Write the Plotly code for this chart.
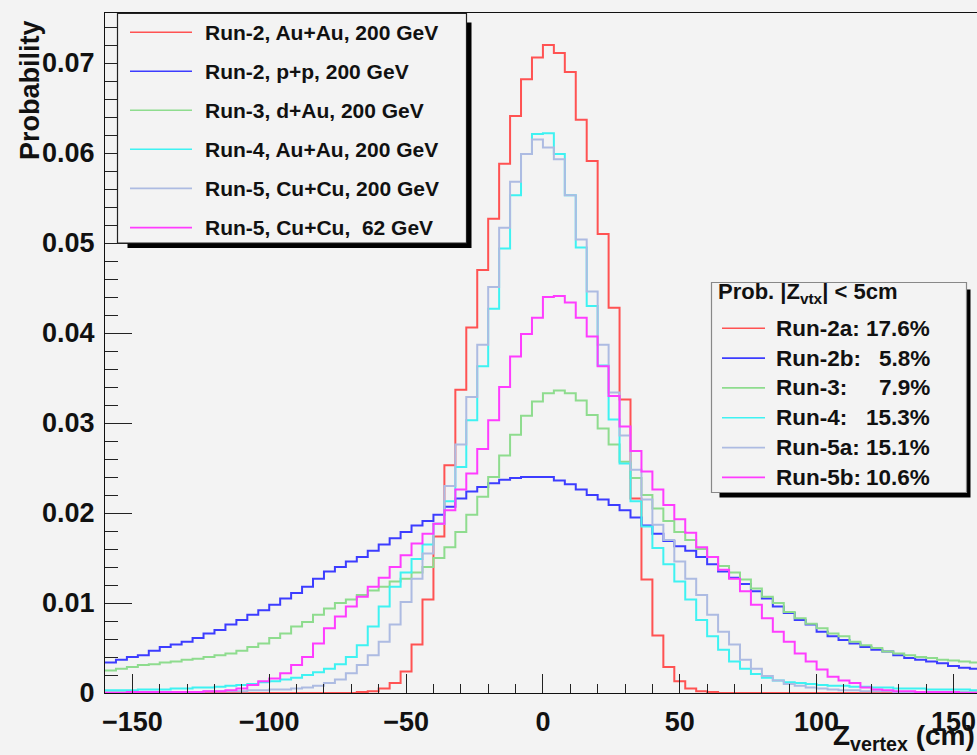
import plotly.graph_objects as go

# ---------------- data (bin edges in cm, 4 cm bins) ----------------
BIN_EDGES = list(range(-160, 164, 4))  # 81 edges -> 80 bins

RUN2_AUAU = [0, 0, 0, 0, 0, 0, 0, 0, 0, 0,
             0, 0, 0, 0, 0, 0, 0, 0, 0, 0,
             0, 0, 0, 0.0001, 0.0002, 0.0005, 0.0011, 0.0024, 0.0054, 0.0104,
             0.0174, 0.0253, 0.0337, 0.0406, 0.0470, 0.0527, 0.0588, 0.0641, 0.0682, 0.0706,
             0.0720, 0.0711, 0.0690, 0.0637, 0.0591, 0.0510, 0.0428, 0.0326, 0.0216, 0.0126,
             0.0064, 0.0029, 0.0013, 0.0005, 0.0002, 0.0001, 0, 0, 0, 0,
             0, 0, 0, 0, 0, 0, 0, 0, 0, 0,
             0, 0, 0, 0, 0, 0, 0, 0, 0, 0]

RUN2_PP = [0.0034, 0.0037, 0.0040, 0.0042, 0.0047, 0.0051, 0.0054, 0.0057, 0.0061, 0.0066,
           0.0070, 0.0076, 0.0081, 0.0087, 0.0092, 0.0098, 0.0105, 0.0111, 0.0118, 0.0127,
           0.0135, 0.0140, 0.0146, 0.0151, 0.0158, 0.0165, 0.0172, 0.0179, 0.0186, 0.0191,
           0.0198, 0.0207, 0.0216, 0.0224, 0.0229, 0.0233, 0.0237, 0.0239, 0.0240, 0.0240,
           0.0240, 0.0236, 0.0232, 0.0226, 0.0220, 0.0215, 0.0209, 0.0203, 0.0195, 0.0186,
           0.0177, 0.0169, 0.0163, 0.0158, 0.0151, 0.0143, 0.0135, 0.0128, 0.0121, 0.0113,
           0.0105, 0.0096, 0.0089, 0.0081, 0.0076, 0.0068, 0.0063, 0.0059, 0.0055, 0.0051,
           0.0048, 0.0046, 0.0042, 0.0039, 0.0037, 0.0035, 0.0033, 0.0030, 0.0028, 0.0027]

RUN3_DAU = [0.0025, 0.0027, 0.0029, 0.0031, 0.0032, 0.0034, 0.0035, 0.0037, 0.0038, 0.0040,
            0.0042, 0.0044, 0.0047, 0.0051, 0.0055, 0.0061, 0.0066, 0.0074, 0.0079, 0.0087,
            0.0094, 0.0100, 0.0104, 0.0109, 0.0114, 0.0118, 0.0124, 0.0127, 0.0134, 0.0140,
            0.0150, 0.0162, 0.0179, 0.0198, 0.0218, 0.0240, 0.0264, 0.0287, 0.0308, 0.0324,
            0.0333, 0.0336, 0.0333, 0.0325, 0.0309, 0.0294, 0.0276, 0.0257, 0.0239, 0.0220,
            0.0205, 0.0191, 0.0179, 0.0170, 0.0160, 0.0151, 0.0141, 0.0134, 0.0126, 0.0116,
            0.0107, 0.0100, 0.0090, 0.0083, 0.0077, 0.0072, 0.0066, 0.0063, 0.0057, 0.0053,
            0.0050, 0.0046, 0.0044, 0.0042, 0.0040, 0.0039, 0.0037, 0.0036, 0.0035, 0.0034]

RUN4_AUAU = [0.0003, 0.0003, 0.0003, 0.0004, 0.0004, 0.0004, 0.0005, 0.0005, 0.0006, 0.0006,
             0.0007, 0.0008, 0.0009, 0.0010, 0.0012, 0.0013, 0.0015, 0.0017, 0.0020, 0.0023,
             0.0027, 0.0032, 0.0040, 0.0053, 0.0074, 0.0096, 0.0118, 0.0134, 0.0149, 0.0165,
             0.0188, 0.0213, 0.0251, 0.0303, 0.0363, 0.0427, 0.0494, 0.0553, 0.0599, 0.0621,
             0.0622, 0.0599, 0.0553, 0.0495, 0.0430, 0.0364, 0.0304, 0.0255, 0.0213, 0.0185,
             0.0161, 0.0143, 0.0124, 0.0104, 0.0081, 0.0063, 0.0048, 0.0035, 0.0027, 0.0021,
             0.0017, 0.0014, 0.0012, 0.0011, 0.0010, 0.0009, 0.0008, 0.0008, 0.0007, 0.0007,
             0.0006, 0.0006, 0.0005, 0.0005, 0.0005, 0.0004, 0.0004, 0.0004, 0.0004, 0.0003]

RUN5_CUCU200 = [0.0001, 0.0001, 0.0001, 0.0001, 0.0001, 0.0001, 0.0001, 0.0001, 0.0001, 0.0002,
                0.0002, 0.0002, 0.0002, 0.0003, 0.0003, 0.0004, 0.0004, 0.0005, 0.0006, 0.0008,
                0.0011, 0.0015, 0.0022, 0.0031, 0.0042, 0.0057, 0.0076, 0.0101, 0.0127, 0.0155,
                0.0188, 0.0230, 0.0276, 0.0329, 0.0387, 0.0451, 0.0517, 0.0568, 0.0599, 0.0615,
                0.0606, 0.0593, 0.0553, 0.0504, 0.0446, 0.0387, 0.0334, 0.0286, 0.0248, 0.0215,
                0.0187, 0.0170, 0.0146, 0.0127, 0.0109, 0.0087, 0.0068, 0.0054, 0.0037, 0.0027,
                0.0019, 0.0014, 0.0010, 0.0008, 0.0006, 0.0005, 0.0004, 0.0003, 0.0003, 0.0002,
                0.0002, 0.0002, 0.0001, 0.0001, 0.0001, 0.0001, 0.0001, 0.0001, 0.0001, 0.0001]

RUN5_CUCU62 = [0.0000, 0.0000, 0.0001, 0.0001, 0.0001, 0.0001, 0.0001, 0.0001, 0.0001, 0.0002,
               0.0002, 0.0003, 0.0005, 0.0009, 0.0013, 0.0016, 0.0022, 0.0031, 0.0040, 0.0055,
               0.0072, 0.0085, 0.0096, 0.0107, 0.0118, 0.0128, 0.0140, 0.0153, 0.0166, 0.0177,
               0.0188, 0.0203, 0.0226, 0.0244, 0.0271, 0.0303, 0.0340, 0.0374, 0.0399, 0.0417,
               0.0440, 0.0441, 0.0434, 0.0417, 0.0396, 0.0363, 0.0330, 0.0296, 0.0269, 0.0246,
               0.0226, 0.0209, 0.0193, 0.0178, 0.0162, 0.0151, 0.0137, 0.0127, 0.0113, 0.0098,
               0.0083, 0.0068, 0.0057, 0.0044, 0.0035, 0.0026, 0.0018, 0.0014, 0.0011, 0.0006,
               0.0004, 0.0003, 0.0002, 0.0002, 0.0001, 0.0001, 0.0001, 0.0001, 0.0000, 0.0000]

LEGEND_NAMES = ["Run-2, Au+Au, 200 GeV", "Run-2, p+p, 200 GeV", "Run-3, d+Au, 200 GeV",
                "Run-4, Au+Au, 200 GeV", "Run-5, Cu+Cu, 200 GeV", "Run-5, Cu+Cu,\u00a0\u00a062 GeV"]
PROB_TITLE = "Prob. |Z<sub>vtx</sub>| &lt; 5cm"
PROB_LABELS = ["Run-2a:", "Run-2b:", "Run-3:", "Run-4:", "Run-5a:", "Run-5b:"]
PROB_VALUES = ["17.6%", "5.8%", "7.9%", "15.3%", "15.1%", "10.6%"]
Y_TICKS = [0, 0.01, 0.02, 0.03, 0.04, 0.05, 0.06, 0.07]
X_TICKS = [-150, -100, -50, 0, 50, 100, 150]

SERIES = [RUN2_AUAU, RUN2_PP, RUN3_DAU, RUN4_AUAU, RUN5_CUCU200, RUN5_CUCU62]
COLORS = ['#ff5252', '#3c3cff', '#8edc8e', '#3ef2f2', '#adbbe2', '#ff3cff']

# ---------------- geometry ----------------
W, H = 977, 755
L, R, T, B = 105, 0, 13, 62
PW, PH = W - L - R, H - T - B
PX_PER_CM = 2.737
PX_PER_UNIT = 9000.0


def px(x):
    return (x - L) / PW


def py(y):
    return (H - B - y) / PH


FONT = "Liberation Sans"

fig = go.Figure()
for vals, col in zip(SERIES, COLORS):
    fig.add_trace(go.Scatter(
        x=BIN_EDGES, y=vals + [vals[-1]], mode='lines',
        line=dict(color=col, width=2, shape='hv'),
        showlegend=False, hoverinfo='skip'))

shapes = []
annotations = []


def box(x0, y0, x1, y1, border, bw, shadow):
    shapes.append(dict(type='rect', xref='paper', yref='paper', layer='above',
                       x0=px(x0 + shadow[0]), x1=px(x1 + shadow[2]),
                       y0=py(y1 + shadow[3]), y1=py(y0 + shadow[1]),
                       fillcolor='black', line=dict(width=0)))
    shapes.append(dict(type='rect', xref='paper', yref='paper', layer='above',
                       x0=px(x0), x1=px(x1), y0=py(y1), y1=py(y0),
                       fillcolor='#f3f3f3', line=dict(color=border, width=bw)))


# legend 1
box(117.5, 13.5, 466.5, 243, '#222222', 1.2, (10, 9, 5, 5))
LEG1_Y = [32.3, 71.2, 110.2, 149.2, 188.4, 227.6]
for name, col, yy in zip(LEGEND_NAMES, COLORS, LEG1_Y):
    shapes.append(dict(type='line', xref='paper', yref='paper', layer='above',
                       x0=px(130), x1=px(192), y0=py(yy), y1=py(yy),
                       line=dict(color=col, width=1.6)))
    annotations.append(dict(x=px(203), y=py(yy), xref='paper', yref='paper',
                            text=name, showarrow=False, xanchor='left', yanchor='middle',
                            font=dict(family=FONT, size=21, color='#111', weight='bold')))

# legend 2
box(711.5, 282.5, 966.5, 492.5, '#888888', 1.2, (8, 7, 4, 5))
annotations.append(dict(x=px(716), y=py(293), xref='paper', yref='paper',
                        text=PROB_TITLE, showarrow=False, xanchor='left', yanchor='middle',
                        font=dict(family=FONT, size=22, color='#111', weight='bold')))
LEG2_Y = [328.3, 358.1, 387.9, 417.7, 447.6, 477.4]
for lab, val, col, yy in zip(PROB_LABELS, PROB_VALUES, COLORS, LEG2_Y):
    shapes.append(dict(type='line', xref='paper', yref='paper', layer='above',
                       x0=px(722), x1=px(765), y0=py(yy), y1=py(yy),
                       line=dict(color=col, width=1.6)))
    annotations.append(dict(x=px(774), y=py(yy), xref='paper', yref='paper',
                            text=lab, showarrow=False, xanchor='left', yanchor='middle',
                            font=dict(family=FONT, size=22.5, color='#111', weight='bold')))
    annotations.append(dict(x=px(932), y=py(yy), xref='paper', yref='paper',
                            text=val, showarrow=False, xanchor='right', yanchor='middle',
                            font=dict(family=FONT, size=22.5, color='#111', weight='bold')))

# axis titles
annotations.append(dict(x=px(30), y=py(18), xref='paper', yref='paper',
                        text="Probability", textangle=-90, showarrow=False,
                        xanchor='center', yanchor='top',
                        font=dict(family=FONT, size=27, color='#111', weight='bold')))
annotations.append(dict(x=px(831), y=py(737), xref='paper', yref='paper',
                        text="Z<sub>vertex</sub> (cm)", showarrow=False,
                        xanchor='left', yanchor='middle',
                        font=dict(family=FONT, size=28, color='#111', weight='bold')))

x_min = -160
x_max = x_min + PW / PX_PER_CM
y_max = PH / PX_PER_UNIT

fig.update_layout(
    width=W, height=H,
    margin=dict(l=L, r=R, t=T, b=B, pad=0),
    paper_bgcolor='#f3f3f3', plot_bgcolor='#f3f3f3',
    shapes=shapes, annotations=annotations,
    xaxis=dict(range=[x_min, x_max], tickvals=X_TICKS, ticks='inside', ticklen=19,
               tickwidth=1.2, tickcolor='#222', showline=True, linecolor='#111',
               linewidth=1.3, mirror=True, showgrid=False, zeroline=False,
               minor=dict(dtick=10, tick0=0, ticks='inside', ticklen=9, tickwidth=1.2,
                          tickcolor='#222', showgrid=False),
               tickfont=dict(family=FONT, size=27, color='#111', weight='bold'),
               ticklabelstandoff=4),
    yaxis=dict(range=[0, y_max], tickvals=Y_TICKS, ticks='inside', ticklen=27,
               tickwidth=1.2, tickcolor='#222', showline=True, linecolor='#111',
               linewidth=1.3, showgrid=False, zeroline=False,
               minor=dict(dtick=0.002, tick0=0, ticks='inside', ticklen=13, tickwidth=1.2,
                          tickcolor='#222', showgrid=False),
               tickfont=dict(family=FONT, size=27, color='#111', weight='bold'),
               ticklabelstandoff=4),
)

fig.write_html("out.html",
               config={'displayModeBar': False},
               post_script="document.body.style.margin='0px';"
                           "document.body.style.overflow='hidden';"
                           "document.body.style.background='#f3f3f3';")
